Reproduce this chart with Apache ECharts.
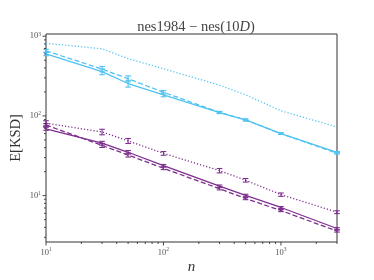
<!DOCTYPE html>
<html>
<head>
<meta charset="utf-8">
<script src="https://cdn.jsdelivr.net/npm/echarts@6/dist/echarts.min.js"></script>
<style>html,body{margin:0;padding:0;background:#fff;}#c{width:374px;height:280px;}</style>
</head>
<body>
<div id="c"></div>
<script>
const nValues = [10, 30, 50, 100, 300, 500, 1000, 3000];
const blueSolid = [600, 359, 255, 184, 110, 89, 60, 35];
const blueDashed = [655, 387, 293, 198, 111, 89, 60, 34];
const blueDotted = [815, 695, 523, 391, 243, 184, 116, 72.6];
const purpleSolid = [69, 45.5, 35, 23.8, 13.2, 10.1, 7.1, 3.87];
const purpleDashed = [77, 42.7, 32.3, 22, 12.2, 9.2, 6.5, 3.59];
const purpleDotted = [81, 63, 48.6, 33.9, 20.6, 15.6, 10.3, 6.2];
const blueSolidErr = [30, 30, 25, 10, 3, 2.5, 1.5, 0.8];
const blueDashedErr = [30, 30, 25, 10, 3, 2.5, 1.5, 0.8];
const blueDottedErr = [0, 0, 0, 0, 0, 0, 0, 0];
const purpleSolidErr = [3, 2.5, 1.8, 0.8, 0.4, 0.3, 0.2, 0.1];
const purpleDashedErr = [3, 2.5, 1.8, 0.8, 0.4, 0.3, 0.2, 0.1];
const purpleDottedErr = [6, 5, 3.5, 1.8, 1.3, 0.8, 0.5, 0.25];
const xMajorTicks = [10, 100, 1000];
const xMinorTicks = [20, 30, 40, 50, 60, 70, 80, 90, 200, 300, 400, 500, 600, 700, 800, 900, 2000, 3000];
const yMajorTicks = [10, 100, 1000];
const yMinorTicks = [3, 4, 5, 6, 7, 8, 9, 20, 30, 40, 50, 60, 70, 80, 90, 200, 300, 400, 500, 600, 700, 800, 900];
const xTickExp = ['1', '2', '3'];
const yTickExp = ['1', '2', '3'];

const X_MIN = 10, X_MAX = 3000, Y_MIN = 2.62, Y_MAX = 1066;
const BLUE = '#4fc3f2', PURPLE = '#7e2f8e';
const SERIF = "'Liberation Serif', 'DejaVu Serif', serif";

function lineSeries(vals, color, type) {
  let lt = 'solid';
  if (type === 'dashed') lt = [5, 2.5];
  if (type === 'dotted') lt = [1.2, 2];
  return {
    type: 'line', data: nValues.map((n, i) => [n, vals[i]]),
    showSymbol: false, symbol: 'none', silent: true, z: 3,
    lineStyle: { color: color, width: 1.3, type: lt }
  };
}
function errSeries(vals, errs, color) {
  return {
    type: 'custom', silent: true, z: 4, clip: false,
    data: nValues.map((n, i) => [n, vals[i], errs[i]]),
    renderItem: function (params, api) {
      const x = api.value(0), v = api.value(1), e = api.value(2);
      if (!(e > 0)) return { type: 'group', children: [] };
      const p0 = api.coord([x, v - e]);
      const p1 = api.coord([x, v + e]);
      const w = 2.8;
      const st = { stroke: color, lineWidth: 1.1 };
      return { type: 'group', children: [
        { type: 'line', shape: { x1: p0[0], y1: p0[1], x2: p1[0], y2: p1[1] }, style: st },
        { type: 'line', shape: { x1: p0[0] - w, y1: p0[1], x2: p0[0] + w, y2: p0[1] }, style: st },
        { type: 'line', shape: { x1: p1[0] - w, y1: p1[1], x2: p1[0] + w, y2: p1[1] }, style: st }
      ]};
    }
  };
}
const tickData = [];
xMajorTicks.forEach((v, i) => tickData.push([v, Y_MIN, 0, i]));
xMinorTicks.forEach(v => tickData.push([v, Y_MIN, 1, -1]));
yMajorTicks.forEach((v, i) => tickData.push([X_MIN, v, 2, i]));
yMinorTicks.forEach(v => tickData.push([X_MIN, v, 3, -1]));

const tickSeries = {
  type: 'custom', silent: true, clip: false, z: 5,
  data: tickData,
  renderItem: function (params, api) {
    const p = api.coord([api.value(0), api.value(1)]);
    const kind = api.value(2), li = api.value(3);
    const st = { stroke: '#333', lineWidth: 0.9 };
    const ch = [];
    if (kind === 0 || kind === 1) {
      const len = kind === 0 ? 3.5 : 2;
      ch.push({ type: 'line', shape: { x1: p[0], y1: p[1], x2: p[0], y2: p[1] + len }, style: st });
      if (kind === 0) ch.push({ type: 'text', x: p[0], y: p[1] + 5, style: {
        text: '{b|10}{s|' + xTickExp[li] + '}', align: 'center', verticalAlign: 'top',
        rich: { b: { fontSize: 8.5, fontFamily: SERIF, fill: '#555', verticalAlign: 'bottom' }, s: { fontSize: 5.5, fontFamily: SERIF, fill: '#555', verticalAlign: 'top', padding: [0,0,4,0] } } } });
    } else {
      const len = kind === 2 ? 3.5 : 2;
      ch.push({ type: 'line', shape: { x1: p[0], y1: p[1], x2: p[0] - len, y2: p[1] }, style: st });
      if (kind === 2) ch.push({ type: 'text', x: p[0] - 5, y: p[1], style: {
        text: '{b|10}{s|' + yTickExp[li] + '}', align: 'right', verticalAlign: 'middle',
        rich: { b: { fontSize: 8.5, fontFamily: SERIF, fill: '#555' }, s: { fontSize: 5.5, fontFamily: SERIF, fill: '#555', padding: [0,0,4,0] } } } });
    }
    return { type: 'group', children: ch };
  }
};

const chart = echarts.init(document.getElementById('c'), null, { renderer: 'canvas' });
chart.setOption({
  animation: false,
  backgroundColor: '#fff',
  title: {
    text: 'nes1984 − nes(10{i|D})', left: 191, textAlign: 'center', top: 15,
    textStyle: { fontFamily: SERIF, fontSize: 14.5, fontWeight: 'normal', color: '#444',
      rich: { i: { fontFamily: SERIF, fontStyle: 'italic', fontSize: 14.5, color: '#444' } } }
  },
  grid: { left: 46, right: 37, top: 34, bottom: 31, show: true, borderColor: '#333', borderWidth: 1, backgroundColor: 'transparent' },
  xAxis: {
    type: 'log', logBase: 10, min: X_MIN, max: X_MAX,
    axisLine: { show: false }, axisTick: { show: false }, axisLabel: { show: false }, splitLine: { show: false },
    name: 'n', nameLocation: 'middle', nameGap: 18,
    nameTextStyle: { fontFamily: SERIF, fontStyle: 'italic', fontSize: 15, color: '#333' }
  },
  yAxis: {
    type: 'log', logBase: 10, min: Y_MIN, max: Y_MAX,
    axisLine: { show: false }, axisTick: { show: false }, axisLabel: { show: false }, splitLine: { show: false },
    name: 'E[KSD]', nameLocation: 'middle', nameGap: 22,
    nameTextStyle: { fontFamily: SERIF, fontSize: 14.5, color: '#333' }
  },
  series: [
    lineSeries(blueDotted, BLUE, 'dotted'),
    lineSeries(blueDashed, BLUE, 'dashed'),
    lineSeries(blueSolid, BLUE, 'solid'),
    lineSeries(purpleDotted, PURPLE, 'dotted'),
    lineSeries(purpleDashed, PURPLE, 'dashed'),
    lineSeries(purpleSolid, PURPLE, 'solid'),
    errSeries(blueDotted, blueDottedErr, BLUE),
    errSeries(blueDashed, blueDashedErr, BLUE),
    errSeries(blueSolid, blueSolidErr, BLUE),
    errSeries(purpleDotted, purpleDottedErr, PURPLE),
    errSeries(purpleDashed, purpleDashedErr, PURPLE),
    errSeries(purpleSolid, purpleSolidErr, PURPLE),
    tickSeries
  ]
});
</script>
</body>
</html>
